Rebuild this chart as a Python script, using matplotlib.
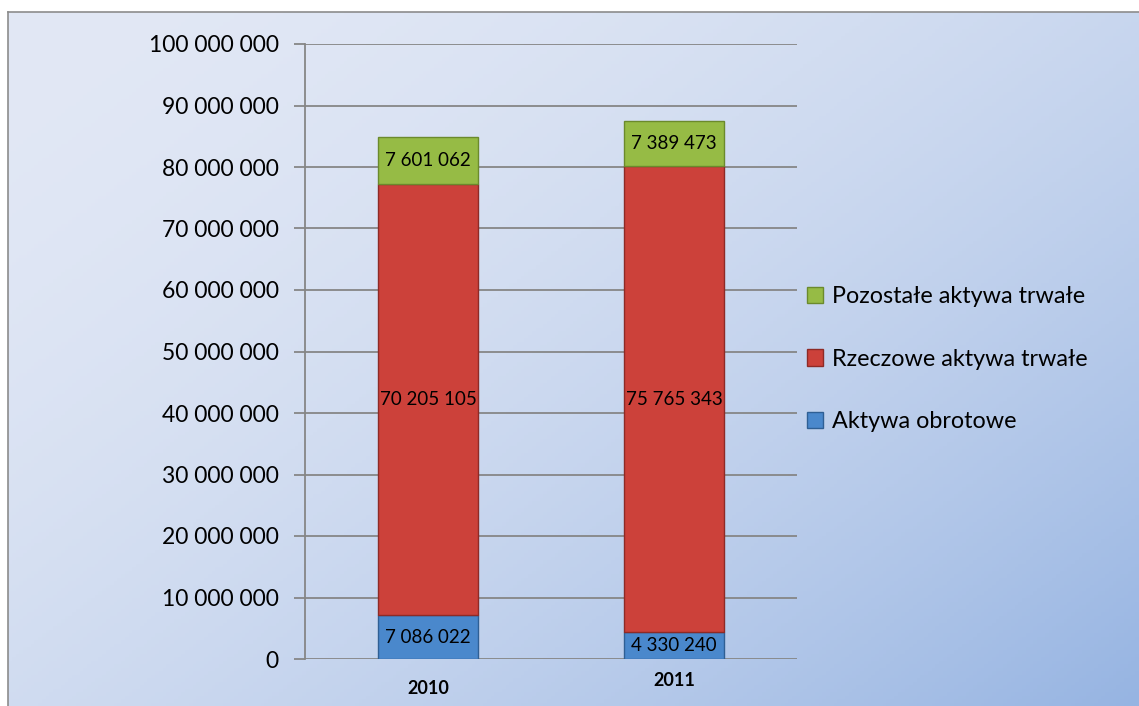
import numpy as np
import matplotlib
matplotlib.use("Agg")
import matplotlib.pyplot as plt
from matplotlib.transforms import ScaledTranslation

categories = ["2010", "2011"]
aktywa_obrotowe = [7086022, 4330240]
rzeczowe = [70205105, 75765343]
pozostale = [7601062, 7389473]
series_names = ["Aktywa obrotowe", "Rzeczowe aktywa trwałe", "Pozostałe aktywa trwałe"]
yticks = list(range(0, 100000001, 10000000))

def fmt(v):
    return f"{v:,}".replace(",", " ")

plt.rcParams['font.family'] = ['Lato', 'DejaVu Sans']

W, H = 1139, 706
fig = plt.figure(figsize=(W / 100, H / 100), dpi=100)
fig.patch.set_facecolor("white")

# background gradient
bg = fig.add_axes([8 / W, 0, 1 - 8 / W, 1 - 12 / H], zorder=0)
xx, yy = np.meshgrid(np.linspace(0, 1, 300), np.linspace(0, 1, 200))
t = np.clip(0.55 * xx + 0.45 * yy, 0, 1) ** 1.8
c0 = np.array([226, 232, 245]) / 255
c1 = np.array([150, 180, 226]) / 255
img = c0[None, None, :] * (1 - t[..., None]) + c1[None, None, :] * t[..., None]
bg.imshow(img, aspect="auto", extent=[0, 1, 1, 0], origin="upper")
bg.set_xlim(0, 1); bg.set_ylim(1, 0)
bg.set_xticks([]); bg.set_yticks([])
for s in bg.spines.values():
    s.set_color("#8c8c8c"); s.set_linewidth(1.2)
bg.spines["bottom"].set_visible(False)
bg.spines["right"].set_visible(False)

ax = fig.add_axes([305 / W, 47 / H, 492 / W, 615 / H], zorder=2)
ax.patch.set_alpha(0)

x = np.arange(len(categories))
width = 0.41
colors = ["#4a88cc", "#cc413a", "#96bb45"]
edges = ["#2f5f94", "#8e2a26", "#6b8a2c"]
bottoms = np.zeros(len(categories))
for vals, name, col, ec in zip([aktywa_obrotowe, rzeczowe, pozostale], series_names, colors, edges):
    vals = np.array(vals, dtype=float)
    ax.bar(x, vals, width, bottom=bottoms, color=col, edgecolor=ec, linewidth=1.0,
           label=name, zorder=3)
    for xi, b, v in zip(x, bottoms, vals):
        ax.text(xi, b + v / 2, fmt(int(v)), ha="center", va="center", fontsize=13.5,
                color="black", zorder=5)
    bottoms += vals

ax.set_xlim(-0.5, 1.5)
ax.set_ylim(0, 100000000)
ax.set_yticks(yticks)
ax.set_yticklabels([fmt(v) for v in yticks], fontsize=16.5)
ax.yaxis.grid(True, color="#868686", linewidth=1.3, zorder=1)
ax.tick_params(axis="y", length=8, color="#868686", width=1.3, pad=11)
ax.set_xticks(x)
ax.set_xticklabels(categories, fontsize=13, fontweight="bold")
ax.tick_params(axis="x", length=0, pad=15)
labs = ax.get_xticklabels()
labs[1].set_transform(labs[1].get_transform() + ScaledTranslation(0, 0.08, fig.dpi_scale_trans))
for s in ["top", "right", "bottom"]:
    ax.spines[s].set_visible(False)
ax.spines["left"].set_color("#868686")
ax.spines["left"].set_linewidth(1.3)

h, l = ax.get_legend_handles_labels()
leg = fig.legend(h[::-1], l[::-1], loc="center left", bbox_to_anchor=(786 / W, 1 - 359 / H),
                 frameon=False, fontsize=16.8, handlelength=0.7, handleheight=0.7,
                 handletextpad=0.35, labelspacing=1.78)

fig.savefig("out.png", dpi=100)
